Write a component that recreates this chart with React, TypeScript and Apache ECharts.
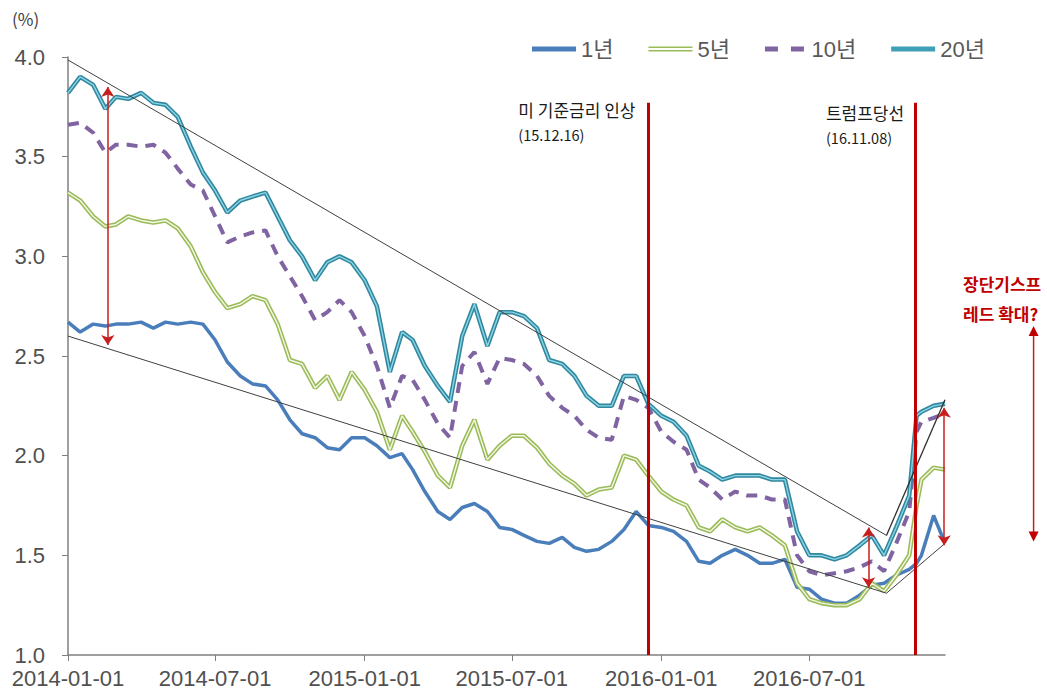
import React, { useEffect, useRef } from "react";
import * as echarts from "echarts";

const FONT = '"Liberation Sans", Arial, "Noto Sans CJK KR", sans-serif';
const KFONT = '"Noto Sans CJK KR", "Liberation Sans", sans-serif';

// Observation dates (semi-monthly, plus the day after the US election)
const dates = [
  "2014-01-01", "2014-01-16", "2014-02-01", "2014-02-16", "2014-03-01", "2014-03-16",
  "2014-04-01", "2014-04-16", "2014-05-01", "2014-05-16", "2014-06-01", "2014-06-16",
  "2014-07-01", "2014-07-16", "2014-08-01", "2014-08-16", "2014-09-01", "2014-09-16",
  "2014-10-01", "2014-10-16", "2014-11-01", "2014-11-16", "2014-12-01", "2014-12-16",
  "2015-01-01", "2015-01-16", "2015-02-01", "2015-02-16", "2015-03-01", "2015-03-16",
  "2015-04-01", "2015-04-16", "2015-05-01", "2015-05-16", "2015-06-01", "2015-06-16",
  "2015-07-01", "2015-07-16", "2015-08-01", "2015-08-16", "2015-09-01", "2015-09-16",
  "2015-10-01", "2015-10-16", "2015-11-01", "2015-11-16", "2015-12-01", "2015-12-16",
  "2016-01-01", "2016-01-16", "2016-02-01", "2016-02-16", "2016-03-01", "2016-03-16",
  "2016-04-01", "2016-04-16", "2016-05-01", "2016-05-16", "2016-06-01", "2016-06-16",
  "2016-07-01", "2016-07-16", "2016-08-01", "2016-08-16", "2016-09-01", "2016-09-16",
  "2016-10-01", "2016-10-16", "2016-11-01", "2016-11-10", "2016-11-16", "2016-12-01",
  "2016-12-15",
];

const y1 = [
  2.67, 2.62, 2.66, 2.65, 2.66, 2.66, 2.67, 2.64, 2.67, 2.66,
  2.67, 2.66, 2.58, 2.47, 2.40, 2.36, 2.35, 2.28, 2.18, 2.11,
  2.09, 2.04, 2.03, 2.09, 2.09, 2.05, 1.99, 2.01, 1.93, 1.82,
  1.72, 1.68, 1.74, 1.76, 1.72, 1.64, 1.63, 1.60, 1.57, 1.56,
  1.59, 1.54, 1.52, 1.53, 1.57, 1.63, 1.72, 1.65, 1.64, 1.62,
  1.57, 1.47, 1.46, 1.50, 1.53, 1.50, 1.46, 1.46, 1.48, 1.34,
  1.33, 1.28, 1.26, 1.26, 1.30, 1.35, 1.36, 1.40, 1.43, 1.46,
  1.50, 1.70, 1.56,
];

const y5 = [
  3.32, 3.28, 3.20, 3.15, 3.16, 3.20, 3.18, 3.17, 3.18, 3.14,
  3.05, 2.92, 2.82, 2.74, 2.76, 2.80, 2.78, 2.66, 2.48, 2.46,
  2.34, 2.40, 2.28, 2.42, 2.33, 2.22, 2.03, 2.20, 2.12, 2.02,
  1.90, 1.84, 2.05, 2.18, 1.98, 2.05, 2.10, 2.10, 2.04, 1.96,
  1.90, 1.86, 1.80, 1.83, 1.84, 2.00, 1.98, 1.90, 1.82, 1.78,
  1.75, 1.64, 1.62, 1.68, 1.64, 1.62, 1.64, 1.60, 1.55, 1.36,
  1.28, 1.26, 1.25, 1.25, 1.28, 1.36, 1.32, 1.40, 1.50, 1.75,
  1.88, 1.94, 1.93,
];

const y10 = [
  3.66, 3.67, 3.62, 3.52, 3.56, 3.56, 3.55, 3.56, 3.52, 3.44,
  3.36, 3.33, 3.20, 3.07, 3.10, 3.12, 3.13, 3.00, 2.90, 2.80,
  2.68, 2.72, 2.78, 2.72, 2.60, 2.45, 2.24, 2.40, 2.38, 2.28,
  2.16, 2.09, 2.45, 2.52, 2.36, 2.49, 2.48, 2.46, 2.40, 2.30,
  2.24, 2.20, 2.13, 2.09, 2.08, 2.30, 2.28, 2.24, 2.12, 2.07,
  2.03, 1.88, 1.84, 1.78, 1.82, 1.80, 1.80, 1.78, 1.78, 1.50,
  1.42, 1.40, 1.41, 1.42, 1.44, 1.47, 1.42, 1.56, 1.72, 2.12,
  2.17, 2.19, 2.21,
];

const y20 = [
  3.82, 3.90, 3.86, 3.74, 3.80, 3.79, 3.82, 3.77, 3.76, 3.70,
  3.55, 3.42, 3.33, 3.22, 3.28, 3.30, 3.32, 3.20, 3.08, 3.00,
  2.88, 2.97, 3.00, 2.97, 2.88, 2.75, 2.42, 2.62, 2.58, 2.45,
  2.35, 2.27, 2.60, 2.76, 2.55, 2.72, 2.72, 2.70, 2.64, 2.48,
  2.46, 2.40, 2.30, 2.25, 2.25, 2.40, 2.40, 2.26, 2.20, 2.17,
  2.10, 1.95, 1.92, 1.88, 1.90, 1.90, 1.90, 1.88, 1.88, 1.62,
  1.50, 1.50, 1.48, 1.50, 1.55, 1.60, 1.50, 1.64, 1.80, 2.20,
  2.22, 2.25, 2.26,
];

const xTicks = ["2014-01-01", "2014-07-01", "2015-01-01", "2015-07-01", "2016-01-01", "2016-07-01"];
const xMin = "2014-01-01";
const xMax = "2016-12-15";

// Annotation lines (date, value)
const upperTrend: [string, number][] = [["2014-01-01", 3.985], ["2016-10-04", 1.6]];
const lowerTrend: [string, number][] = [["2014-01-01", 2.6], ["2016-10-04", 1.31]];
const upperRise: [string, number][] = [["2016-10-04", 1.6], ["2016-12-15", 2.28]];
const lowerRise: [string, number][] = [["2016-10-04", 1.31], ["2016-12-15", 1.56]];
const eventDates = ["2015-12-16", "2016-11-08"];
const eventTop = 3.77;
// [date, top, bottom]
const spreadArrows: [string, number, number][] = [
  ["2014-02-19", 3.85, 2.555],
  ["2016-09-12", 1.64, 1.34],
  ["2016-12-14", 2.24, 1.55],
];
const outerArrow: [string, number, number] = ["2017-04-03", 2.65, 1.57];

const ts = (d: string) => echarts.time.parse(d).getTime();
const pairs = (vals: number[]) => dates.map((d, i) => [ts(d), vals[i]]);
const seg = (pts: [string, number][]) => pts.map(([d, v]) => [ts(d), v]);

export default function App() {
  const ref = useRef<HTMLDivElement>(null);
  useEffect(() => {
    const chart = echarts.init(ref.current!, null, { renderer: "svg" });
    const line = (name: string, data: any[], lineStyle: any, extra: any = {}) => ({
      type: "line",
      name,
      data,
      showSymbol: false,
      symbol: "none",
      silent: true,
      lineStyle,
      ...extra,
    });
    const axisColor = "#7f7f7f";
    chart.setOption({
      animation: false,
      textStyle: { fontFamily: FONT },
      grid: { left: 68, right: 102, top: 57, bottom: 41 },
      legend: {
        left: 527,
        top: 33,
        itemWidth: 44,
        itemHeight: 5,
        itemGap: 35,
        itemStyle: { borderWidth: 0 },
        textStyle: { fontSize: 22, color: "#595959", fontFamily: FONT },
        data: [
          { name: "1년", icon: "rect" },
          { name: "5년", icon: "path://M0,0H44V1.6H0Z M0,3.4H44V5H0Z" },
          { name: "10년", icon: "path://M0,0H13V5H0Z M26,0H39V5H26Z" },
          { name: "20년", icon: "rect" },
        ],
      },
      xAxis: {
        type: "value",
        min: ts(xMin),
        max: ts(xMax),
        splitLine: { show: false },
        axisLine: { lineStyle: { color: axisColor, width: 1.5 } },
        axisTick: {
          show: true,
          length: 6,
          customValues: xTicks.map(ts),
          lineStyle: { color: axisColor },
        },
        axisLabel: {
          customValues: xTicks.map(ts),
          fontSize: 22,
          lineHeight: 18,
          color: "#505050",
          margin: 14,
          fontFamily: FONT,
          formatter: (v: number) => echarts.time.format(v, "{yyyy}-{MM}-{dd}", false),
        },
      },
      yAxis: {
        type: "value",
        min: 1,
        max: 4,
        interval: 0.5,
        splitLine: { show: false },
        axisLine: { show: true, lineStyle: { color: axisColor, width: 1.5 } },
        axisTick: { show: true, length: 6, lineStyle: { color: axisColor } },
        axisLabel: {
          fontSize: 22,
          lineHeight: 17,
          padding: [0, 0, 4, 0],
          color: "#505050",
          margin: 23,
          fontFamily: FONT,
          formatter: (v: number) => v.toFixed(1),
        },
      },
      series: [
        line("1년", pairs(y1), { width: 3.5, color: "#4A7EBB" }, {
          color: "#4A7EBB",
          z: 3,
          markLine: {
            silent: true,
            symbol: ["none", "none"],
            label: { show: false },
            lineStyle: { color: "#C00000", width: 3, type: "solid" },
            data: eventDates.map((d) => [{ coord: [ts(d), 1.0] }, { coord: [ts(d), eventTop] }]),
          },
        }),
        line("5년", pairs(y5), { width: 4.5, color: "#9BBB59" }, { color: "#9BBB59", z: 3 }),
        line("5년 inner", pairs(y5), { width: 1.4, color: "#F3F7E6" }, { color: "#F3F7E6", z: 3 }),
        line("10년", pairs(y10), { width: 4, color: "#8064A2", type: [11, 8] }, { color: "#8064A2", z: 3 }),
        line("20년", pairs(y20), { width: 4.5, color: "#31889E" }, { color: "#3E9FB6", z: 3 }),
        line("20년 inner", pairs(y20), { width: 1.4, color: "#8AD4E6" }, { color: "#8AD4E6", z: 3 }),
        line("upperTrend", seg(upperTrend), { width: 1, color: "#404040" }, {
          z: 4,
          markLine: {
            silent: true,
            symbol: ["arrow", "arrow"],
            symbolSize: 10,
            label: { show: false },
            lineStyle: { color: "#C81E1E", width: 1.5, type: "solid" },
            data: spreadArrows.map(([d, top, bottom]) => [
              { coord: [ts(d), bottom] },
              { coord: [ts(d), top] },
            ]),
          },
        }),
        line("lowerTrend", seg(lowerTrend), { width: 1, color: "#404040" }, { z: 4 }),
        line("upperRise", seg(upperRise), { width: 1.3, color: "#303030" }, { z: 4 }),
        line("lowerRise", seg(lowerRise), { width: 1, color: "#404040" }, { z: 4 }),
      ],
    });

    const px = (d: string, v: number) =>
      chart.convertToPixel({ xAxisIndex: 0, yAxisIndex: 0 }, [ts(d), v]) as number[];
    const ev1 = px(eventDates[0], eventTop);
    const ev2 = px(eventDates[1], eventTop);
    const aTop = px(outerArrow[0], outerArrow[1]);
    const aBot = px(outerArrow[0], outerArrow[2]);
    const red = "#C00000";
    const txt = (text: string, x: number, y: number, size: number, fill: string, bold = false) => ({
      type: "text",
      x,
      y,
      silent: true,
      style: {
        text,
        fill,
        font: `${bold ? "bold " : ""}${size}px ${KFONT}`,
        textVerticalAlign: "middle",
        textAlign: "left",
      },
    });
    chart.setOption({
      graphic: [
        txt("(%)", 12, 18, 17, "#404040"),
        txt("미 기준금리 인상", ev1[0] - 130, ev1[1] + 7, 17, "#1a1a1a"),
        txt("(15.12.16)", ev1[0] - 130, ev1[1] + 32, 14.5, "#1a1a1a"),
        txt("트럼프당선", ev2[0] - 89, ev2[1] + 10, 17, "#1a1a1a"),
        txt("(16.11.08)", ev2[0] - 89, ev2[1] + 35, 14.5, "#1a1a1a"),
        txt("장단기스프", 963, 283, 17, red, true),
        txt("레드 확대?", 963, 313, 17, red, true),
        {
          type: "line",
          silent: true,
          shape: { x1: aTop[0], y1: aTop[1] + 8, x2: aBot[0], y2: aBot[1] - 8 },
          style: { stroke: "#C81E1E", lineWidth: 1.5 },
        },
        {
          type: "polygon",
          silent: true,
          shape: { points: [[aTop[0], aTop[1]], [aTop[0] - 5, aTop[1] + 10], [aTop[0] + 5, aTop[1] + 10]] },
          style: { fill: red },
        },
        {
          type: "polygon",
          silent: true,
          shape: { points: [[aBot[0], aBot[1]], [aBot[0] - 5, aBot[1] - 10], [aBot[0] + 5, aBot[1] - 10]] },
          style: { fill: red },
        },
      ],
    });
    return () => chart.dispose();
  }, []);
  return (
    <div
      ref={ref}
      style={{ position: "fixed", left: 0, top: 0, width: 1047, height: 696, background: "#fff" }}
    />
  );
}
